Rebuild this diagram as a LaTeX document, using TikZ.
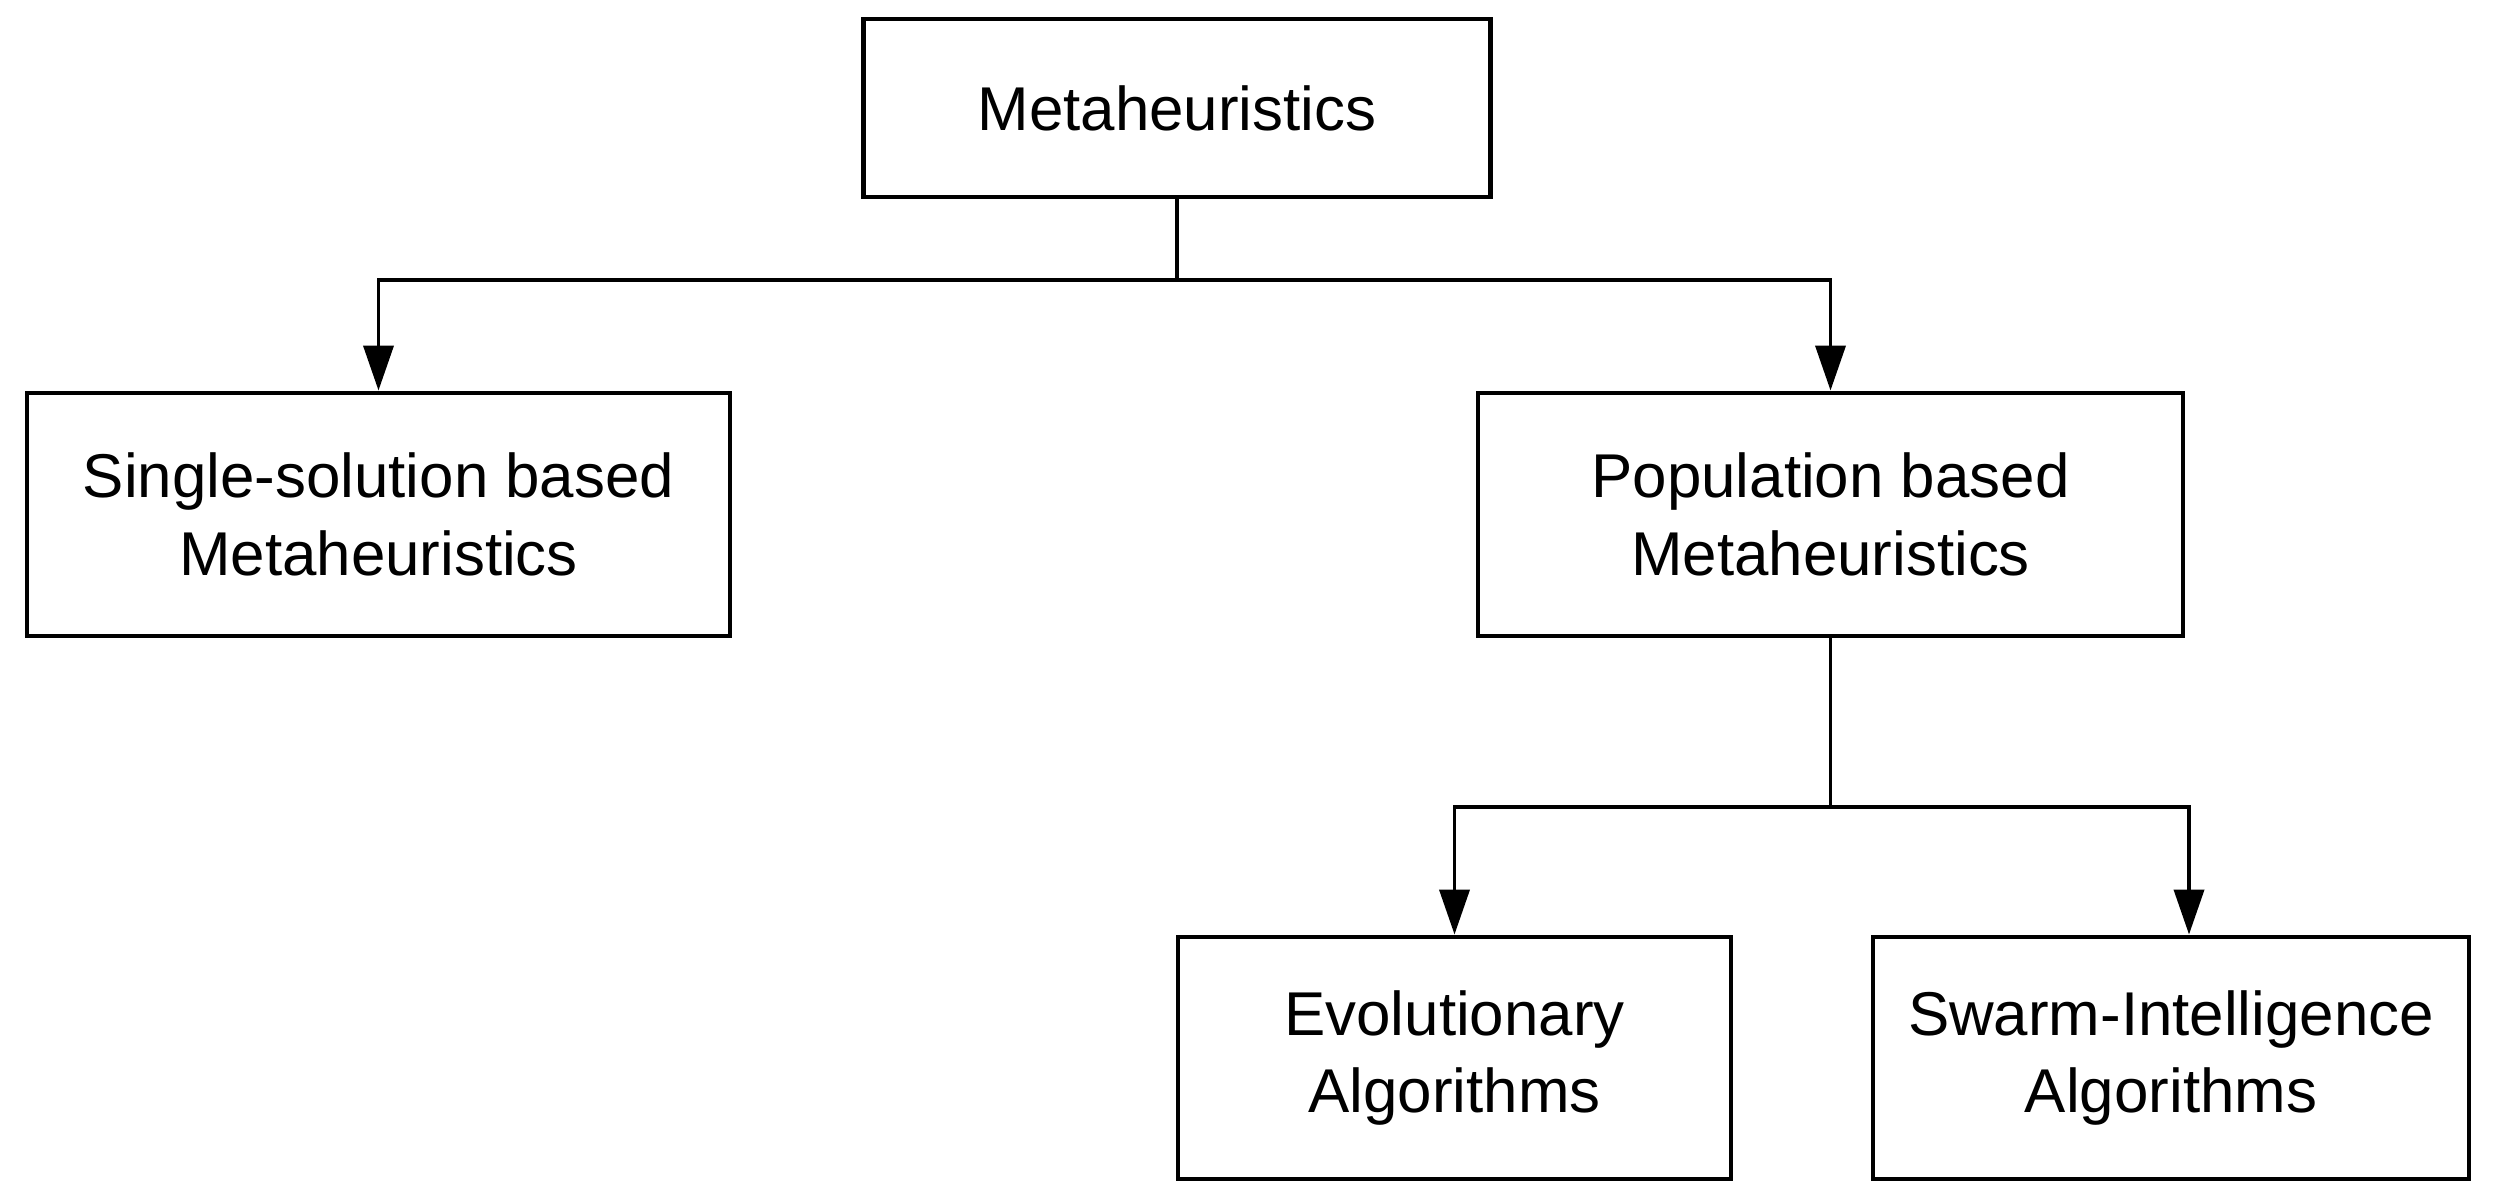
\documentclass[tikz,border=0pt]{standalone}
\usepackage{fontspec}
\setmainfont{Liberation Sans}
\usepackage{tikz}
\usetikzlibrary{arrows.meta,positioning}
\tikzset{
 box/.style={draw=black,line width=1.4pt,fill=white,align=center,
   font=\fontsize{17.6}{22}\selectfont,inner sep=0pt},
 link/.style={line width=1.1pt,draw=black},
 arr/.style={link,-{Triangle[length=4.5mm,width=3mm]}}
}
\begin{document}
\begin{tikzpicture}
\useasboundingbox[fill=white] (0,0) rectangle (25.06,-11.99);
\node[box,minimum width=6.27cm,minimum height=1.78cm] (meta) at (11.77,-1.08) {Metaheuristics};
\node[box,minimum width=7.03cm,minimum height=2.43cm] (single) at (3.785,-5.145) {Single-solution based\\Metaheuristics};
\node[box,minimum width=7.05cm,minimum height=2.43cm] (pop) at (18.305,-5.145) {Population based\\Metaheuristics};
\node[box,minimum width=5.53cm,minimum height=2.42cm] (evo) at (14.545,-10.58) {Evolutionary\\Algorithms};
\node[box,minimum width=5.96cm,minimum height=2.42cm] (swarm) at (21.71,-10.58) {Swarm-Intelligence\\Algorithms};
\coordinate (j1) at (meta.south |- 0,-2.80);
\coordinate (j2) at (pop.south |- 0,-8.07);
\draw[link] (meta.south) -- (j1);
\draw[arr] (j1) -| (single.north);
\draw[arr] (j1) -| (pop.north);
\draw[link] (pop.south) -- (j2);
\draw[arr] (j2) -| (evo.north);
\draw[arr] (j2) -| ([xshift=1.8mm]swarm.north);
\end{tikzpicture}
\end{document}
